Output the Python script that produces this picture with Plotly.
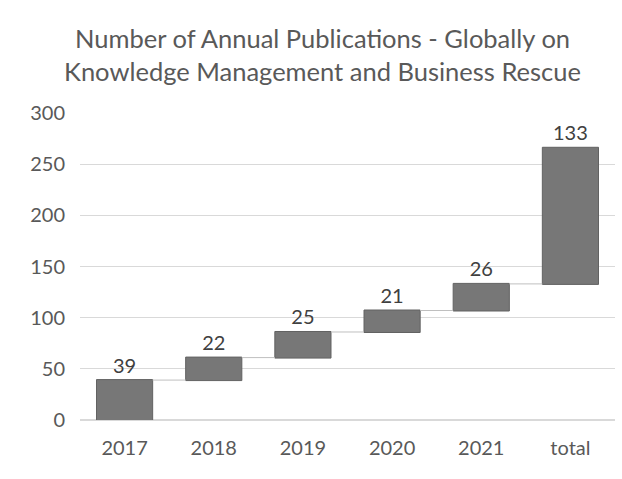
import plotly.graph_objects as go

# Annual publication counts (increments) and the cumulative total
categories = ["2017", "2018", "2019", "2020", "2021", "total"]
values = [39, 22, 25, 21, 26, 133]
measures = ["relative"] * 6

title_lines = [
    "Number of Annual Publications - Globally on",
    "Knowledge Management and Business Rescue",
]

FONT = "Lato"
GRAY = "#595959"

fig = go.Figure(
    go.Waterfall(
        x=categories,
        y=values,
        measure=measures,
        text=[str(v) for v in values],
        textposition="outside",
        textfont=dict(family=FONT, size=20, color="#404040"),
        increasing=dict(marker=dict(color="#777777", line=dict(color="#626262", width=1))),
        connector=dict(line=dict(color="#bfbfbf", width=1)),
        cliponaxis=False,
        width=0.63,
    )
)

# Two-line chart title, centred on the whole figure
for i, line in enumerate(title_lines):
    fig.add_annotation(
        text=line, xref="paper", yref="paper", x=0.5, xanchor="center",
        xshift=-25, y=1, yanchor="middle", yshift=[75, 42][i], showarrow=False,
        font=dict(family=FONT, size=25.5, color=GRAY),
    )

fig.update_layout(
    width=622, height=479,
    margin=dict(l=80, r=7, t=113, b=59),
    paper_bgcolor="white", plot_bgcolor="white",
    showlegend=False,
    xaxis=dict(
        tickfont=dict(family=FONT, size=20, color=GRAY),
        showgrid=False, showline=False, ticks="", ticklabelstandoff=14,
    ),
    yaxis=dict(
        range=[0, 300], dtick=50,
        tickfont=dict(family=FONT, size=20, color=GRAY),
        gridcolor="#d9d9d9", zeroline=True, zerolinecolor="#d9d9d9",
        showline=False, ticks="", ticklabelstandoff=14,
    ),
)

fig.write_html("out.html")
